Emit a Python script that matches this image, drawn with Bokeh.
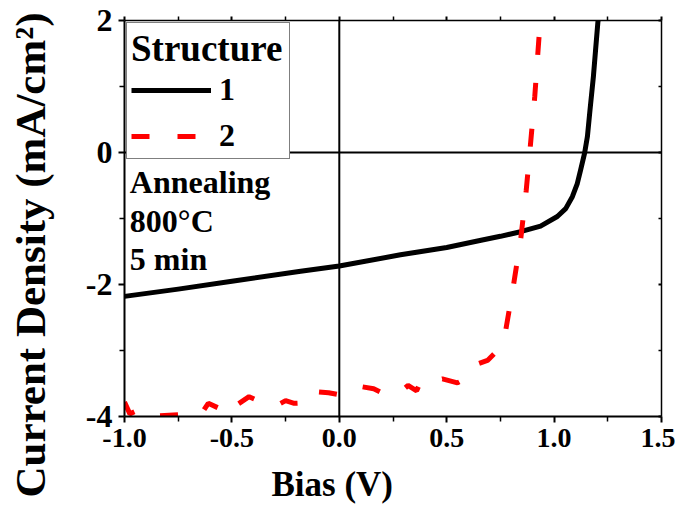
from bokeh.plotting import figure
from bokeh.models import (Span, Legend, LegendItem, Label, LinearAxis, FixedTicker, Range1d,
                          CustomJSTickFormatter, Title)
from bokeh.embed import file_html
from bokeh.resources import INLINE

# ---- data ----
bias_1 = [-1.0, -0.75, -0.5, -0.18, 0.0, 0.285, 0.5, 0.66, 0.75, 0.844, 0.937,
          1.015, 1.054, 1.085, 1.108, 1.123, 1.142, 1.155, 1.167, 1.183, 1.193, 1.204, 1.21]
j_1 = [-2.18, -2.07, -1.95, -1.80, -1.72, -1.55, -1.44, -1.33, -1.27, -1.20, -1.115,
       -0.97, -0.85, -0.67, -0.47, -0.27, -0.01, 0.24, 0.64, 1.15, 1.55, 1.98, 2.1]

bias_2 = [-1.0, -0.975, -0.92, -0.85, -0.74, -0.64, -0.61, -0.55, -0.515, -0.48, -0.42,
          -0.35, -0.29, -0.25, -0.21, -0.15, -0.12, -0.05, 0.0, 0.03, 0.09, 0.16, 0.21,
          0.28, 0.32, 0.36, 0.38, 0.42, 0.48, 0.55, 0.58, 0.63, 0.69, 0.73, 0.775, 0.81,
          0.845, 0.87, 0.89, 0.91, 0.932]
j_2 = [-3.78, -3.96, -3.88, -3.99, -3.97, -3.95, -3.80, -3.89, -3.75, -3.83, -3.70,
       -3.80, -3.83, -3.76, -3.80, -3.79, -3.62, -3.64, -3.67, -3.60, -3.54, -3.58, -3.66,
       -3.64, -3.53, -3.61, -3.46, -3.48, -3.43, -3.49, -3.44, -3.22, -3.15, -3.02, -2.69,
       -2.03, -1.30, -0.58, 0.12, 0.85, 1.85]

x_ticks = [-1.0, -0.5, 0.0, 0.5, 1.0, 1.5]
x_tick_labels = ["-1.0", "-0.5", "0.0", "0.5", "1.0", "1.5"]
x_minor = [-0.75, -0.25, 0.25, 0.75, 1.25]
y_ticks = [-4, -2, 0, 2]
y_tick_labels = ["-4", "-2", "0", "2"]
y_minor = [-3, -1, 1]
x_title = "Bias (V)"
y_title = "Current Density (mA/cm\u00b2)"
legend_title = "Structure"
series_names = ["1", "2"]
notes = ["Annealing", "800\u00b0C", "5 min"]
note_y = [-0.44, -1.04, -1.62]
note_x = -0.975

FONT = "Liberation Serif"
SHIFT = 40  # extra room on the left, pulled back with a negative margin

p = figure(width=675 + SHIFT, height=518,
           x_range=Range1d(-1.0, 1.5), y_range=Range1d(-4, 2),
           output_backend="svg", toolbar_location=None,
           min_border_left=124 + SHIFT, min_border_right=14, min_border_top=20,
           min_border_bottom=102, margin=(0, 0, 0, -SHIFT))
p.grid.visible = False
p.outline_line_color = None
p.background_fill_color = "white"

def style_axis(ax, ticks, minor, font_size, tick_out, tick_in):
    ax.ticker = FixedTicker(ticks=ticks, minor_ticks=minor)
    ax.major_label_text_font = FONT
    ax.major_label_text_font_style = "bold"
    ax.major_label_text_font_size = font_size
    ax.major_label_text_color = "black"
    ax.axis_line_color = "black"
    ax.axis_line_width = 2
    ax.major_tick_line_color = "black"
    ax.major_tick_line_width = 2
    ax.minor_tick_line_color = "black"
    ax.minor_tick_line_width = 1.5
    ax.major_tick_out = tick_out
    ax.major_tick_in = tick_in
    ax.minor_tick_out = max(tick_out - 1, 0)
    ax.minor_tick_in = tick_in

xa = p.xaxis[0]
style_axis(xa, x_ticks, x_minor, "28px", 6, 0)
xa.major_label_overrides = {t: l for t, l in zip(x_ticks, x_tick_labels)}
xa.major_label_standoff = 6

ya = p.yaxis[0]
style_axis(ya, y_ticks, y_minor, "32px", 6, 0)
ya.major_label_overrides = {t: l for t, l in zip(y_ticks, y_tick_labels)}
ya.major_label_standoff = 6

blank = CustomJSTickFormatter(code="return '';")

top = LinearAxis(formatter=blank)
style_axis(top, x_ticks, x_minor, "10px", 4, 0)
top.minor_tick_out = 4
top.axis_line_width = 1.5
top.major_label_standoff = 0
p.add_layout(top, "above")

right = LinearAxis(formatter=blank)
style_axis(right, y_ticks, y_minor, "10px", 0, 3)
right.axis_line_width = 1.5
right.major_label_standoff = 0
p.add_layout(right, "right")

p.add_layout(Span(location=0, dimension="width", line_color="black", line_width=2))
p.add_layout(Span(location=0, dimension="height", line_color="black", line_width=2))

r1 = p.line(bias_1, j_1, line_color="black", line_width=5, line_join="round")
r2 = p.line(bias_2, j_2, line_color="red", line_width=5, line_dash="18 28")

legend = Legend(items=[LegendItem(label=series_names[0], renderers=[r1]),
                       LegendItem(label=series_names[1], renderers=[r2])],
                location="top_left")
legend.title = legend_title
legend.title_text_font = FONT
legend.title_text_font_style = "bold"
legend.title_text_font_size = "37px"
legend.title_text_color = "black"
legend.title_standoff = 1
legend.label_text_font = FONT
legend.label_text_font_style = "bold"
legend.label_text_font_size = "32px"
legend.label_text_color = "black"
legend.glyph_width = 80
legend.glyph_height = 30
legend.label_height = 30
legend.label_width = 66
legend.label_standoff = 8
legend.spacing = 9
legend.padding = 4
legend.margin = 2
legend.border_line_color = "black"
legend.border_line_width = 1.5
legend.background_fill_alpha = 1
p.add_layout(legend)

for t, yy in zip(notes, note_y):
    p.add_layout(Label(x=note_x, y=yy, text=t, text_font=FONT, text_font_style="bold",
                       text_font_size="32px", text_color="black", text_baseline="alphabetic"))

# axis titles as side titles, shifted along the frame like in the reference
p.add_layout(Title(text=y_title, align="left", offset=-81, standoff=58,
                   text_font=FONT, text_font_style="bold", text_font_size="43px",
                   text_color="black"), "left")
p.add_layout(Title(text=x_title, align="left", offset=147, standoff=26,
                   text_font=FONT, text_font_style="bold", text_font_size="35px",
                   text_color="black"), "below")

open("out.html", "w").write(file_html(p, INLINE))
